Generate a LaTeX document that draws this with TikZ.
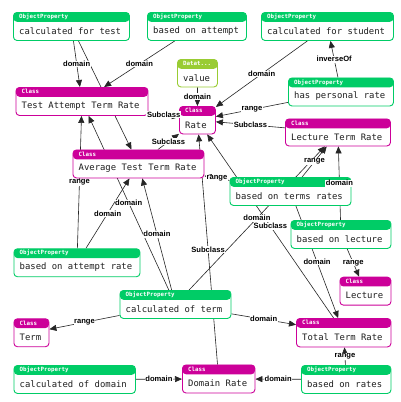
\documentclass[tikz,border=0pt]{standalone}
\usepackage{fontspec}
\usetikzlibrary{arrows.meta}
\newfontfamily\monofont{DejaVu Sans Mono}
\newfontfamily\lblfont{Liberation Sans}
\definecolor{opgreen}{RGB}{0,204,102}
\definecolor{clsmag}{RGB}{204,0,153}
\definecolor{dtgreen}{RGB}{153,204,51}
\pgfdeclarelayer{canvas}
\pgfdeclarelayer{background}
\pgfsetlayers{canvas,background,main}
\tikzset{
  ubox/.style={draw=#1, fill=white, rounded corners=3.5bp, line width=0.9bp, inner sep=0pt,
    path picture={\fill[#1] (path picture bounding box.north west) rectangle ([yshift=-9.3bp]path picture bounding box.north east);}},
  uhdr/.style={inner sep=0pt, text=white, font=\monofont\bfseries\fontsize{5.8bp}{6bp}\selectfont},
  ubody/.style={inner sep=0pt, text=black!88, font=\monofont\fontsize{8.9bp}{10bp}\selectfont},
  edge/.style={draw=black!85, line width=0.6bp, -{Triangle[length=7bp,width=6bp]}},
  lbl/.style={font=\lblfont\bfseries\fontsize{7.6bp}{8bp}\selectfont, fill=white, inner sep=0.6bp, text=black}
}
\newcommand\umlbox[8]{%
  \node[ubox=#3, minimum width=#6bp, minimum height=#7bp, anchor=north west] (#1) at (#4,#5) {};
  \node[uhdr, anchor=west] (#1-h) at ([xshift=6bp,yshift=-4.8bp]#1.north west) {#2};
  \node[ubody, anchor=west] (#1-b) at ([xshift=6bp,yshift=-19bp]#1.north west) {#8};
}
% \conn{from}{to}{label}: line behind the boxes, label on top
\newcommand\conn[3]{%
  \begin{pgfonlayer}{background}
    \draw[edge] (#1) -- coordinate[pos=0.5] (m-#1-#2) (#2);
  \end{pgfonlayer}
  \node[lbl] (l-#1-#2) at (m-#1-#2) {#3};
}
\begin{document}
\begin{tikzpicture}[x=1bp,y=-1bp]
\begin{pgfonlayer}{canvas}
\fill[white] (0,0) rectangle (401,402);
\end{pgfonlayer}
\useasboundingbox (0,0) rectangle (401,402);
\umlbox{cft}{ObjectProperty}{opgreen}{13}{12}{116}{28}{calculated for test}
\umlbox{boa}{ObjectProperty}{opgreen}{147}{12}{99}{28}{based on attempt}
\umlbox{cfs}{ObjectProperty}{opgreen}{261}{12}{132}{28}{calculated for student}
\umlbox{val}{Datat...}{dtgreen}{177}{59}{40}{27.5}{value}
\umlbox{tatr}{Class}{clsmag}{15.5}{87}{132}{28}{Test Attempt Term Rate}
\umlbox{hpr}{ObjectProperty}{opgreen}{288}{77.5}{105}{28}{has personal rate}
\umlbox{rate}{Class}{clsmag}{179}{106}{36}{27.5}{Rate}
\umlbox{ltr}{Class}{clsmag}{285}{118.5}{105}{27}{Lecture Term Rate}
\umlbox{attr}{Class}{clsmag}{72.5}{149.5}{131}{28}{Average Test Term Rate}
\umlbox{btr}{ObjectProperty}{opgreen}{229.5}{177}{121}{28}{based on terms rates}
\umlbox{bol}{ObjectProperty}{opgreen}{290.5}{220}{100}{28}{based on lecture}
\umlbox{bar}{ObjectProperty}{opgreen}{13.5}{248.3}{126}{28}{based on attempt rate}
\umlbox{lec}{Class}{clsmag}{339.5}{276.7}{51}{28}{Lecture}
\umlbox{cot}{ObjectProperty}{opgreen}{119.5}{290}{111}{28}{calculated of term}
\umlbox{term}{Class}{clsmag}{13.5}{318.3}{35}{28}{Term}
\umlbox{ttr}{Class}{clsmag}{296}{318}{94.5}{28.5}{Total Term Rate}
\umlbox{cod}{ObjectProperty}{opgreen}{13.5}{365}{121.5}{28}{calculated of domain}
\umlbox{dr}{Class}{clsmag}{182}{364.5}{72.5}{28}{Domain Rate}
\umlbox{bor}{ObjectProperty}{opgreen}{301}{365}{89.5}{28}{based on rates}
\begin{pgfonlayer}{background}
\draw[edge] (cft) -- (attr);
\end{pgfonlayer}
\conn{cft}{tatr}{domain}
\conn{boa}{tatr}{domain}
\conn{val}{rate}{domain}
\conn{cfs}{rate}{domain}
\conn{hpr}{cfs}{inverseOf}
\conn{hpr}{rate}{range}
\conn{ltr}{rate}{Subclass}
\conn{tatr}{rate}{Subclass}
\conn{attr}{rate}{Subclass}
\conn{btr}{attr}{range}
\conn{btr}{ltr}{range}
\conn{btr}{ttr}{domain}
\conn{bol}{ltr}{domain}
\conn{bol}{lec}{range}
\conn{bar}{tatr}{range}
\conn{bar}{attr}{domain}
\conn{cot}{tatr}{domain}
\conn{cot}{attr}{domain}
\conn{cot}{ltr}{domain}
\conn{cot}{term}{range}
\conn{cot}{ttr}{domain}
\conn{ttr}{rate}{Subclass}
\conn{dr}{rate}{Subclass}
\conn{cod}{dr}{domain}
\conn{bor}{dr}{domain}
\conn{bor}{ttr}{range}
\end{tikzpicture}
\end{document}
